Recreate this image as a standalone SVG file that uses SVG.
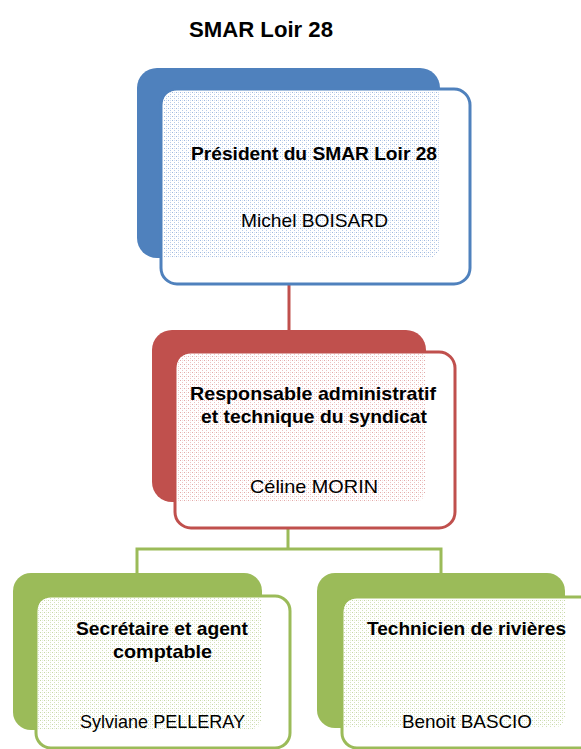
<svg xmlns="http://www.w3.org/2000/svg" width="581" height="749" viewBox="0 0 581 749">
<defs>
<pattern id="pb" width="4" height="4" patternUnits="userSpaceOnUse"><rect width="4" height="4" fill="#ffffff"/><rect x="0" y="0" width="1" height="1" fill="#9DB8E0"/><rect x="2" y="2" width="1" height="1" fill="#B9CCE8"/><rect x="2" y="0" width="1" height="1" fill="#D5E0F1"/></pattern>
<pattern id="pr" width="4" height="4" patternUnits="userSpaceOnUse"><rect width="4" height="4" fill="#ffffff"/><rect x="0" y="0" width="1" height="1" fill="#E3A9A8"/><rect x="2" y="2" width="1" height="1" fill="#EDC3C2"/><rect x="2" y="0" width="1" height="1" fill="#F4DCDB"/></pattern>
<pattern id="pg" width="4" height="4" patternUnits="userSpaceOnUse"><rect width="4" height="4" fill="#ffffff"/><rect x="0" y="0" width="1" height="1" fill="#C6D8A6"/><rect x="2" y="2" width="1" height="1" fill="#D5E2BD"/><rect x="2" y="0" width="1" height="1" fill="#E6EED8"/></pattern>
<style>
.t{font-family:"Liberation Sans",Arial,sans-serif;font-size:19px;fill:#000;text-anchor:middle}
.b{font-weight:bold}
.title{font-family:"Liberation Sans",Arial,sans-serif;font-size:22px;font-weight:bold;fill:#000;text-anchor:middle}
.front{fill:#fff;stroke-width:3}
.conn{fill:none;stroke-width:3}
</style>
</defs>
<rect width="581" height="749" fill="#fff"/>
<text class="title" x="261" y="37" textLength="144" lengthAdjust="spacingAndGlyphs">SMAR Loir 28</text>
<g id="connectors">
<path class="conn" stroke="#C0504D" d="M289,284 V331"/>
<path class="conn" stroke="#9BBB59" d="M288,528 V549 M137,574 V549 H441 V574"/>
</g>
<g id="node-president">
<rect x="137" y="68" width="303" height="190" rx="20" fill="#4F81BD"/>
<rect class="front" x="161" y="89" width="309" height="195" rx="16" stroke="#4F81BD"/>
<path d="M163,105 Q163,91 177,91 H440 V244 Q440,258 426,258 H163 Z" fill="url(#pb)"/>
<text class="t b" x="314" y="160" textLength="246" lengthAdjust="spacingAndGlyphs">Président du SMAR Loir 28</text>
<text class="t" x="314.5" y="227" textLength="147" lengthAdjust="spacingAndGlyphs">Michel BOISARD</text>
</g>
<g id="node-responsable">
<rect x="152" y="330" width="274" height="172" rx="20" fill="#C0504D"/>
<rect class="front" x="175" y="352" width="280" height="176" rx="16" stroke="#C0504D"/>
<path d="M177,368 Q177,354 191,354 H426 V488 Q426,502 412,502 H177 Z" fill="url(#pr)"/>
<text class="t b" x="313" y="400" textLength="246" lengthAdjust="spacingAndGlyphs">Responsable administratif</text>
<text class="t b" x="314" y="423" textLength="226" lengthAdjust="spacingAndGlyphs">et technique du syndicat</text>
<text class="t" x="314" y="493" textLength="128" lengthAdjust="spacingAndGlyphs">Céline MORIN</text>
</g>
<g id="node-secretaire">
<rect x="13" y="573" width="249" height="157" rx="18" fill="#9BBB59"/>
<rect class="front" x="36" y="596" width="254" height="152" rx="15" stroke="#9BBB59"/>
<path d="M38,611 Q38,598 51,598 H262 V716 Q262,730 248,730 H38 Z" fill="url(#pg)"/>
<text class="t b" x="162" y="635" textLength="172" lengthAdjust="spacingAndGlyphs">Secrétaire et agent</text>
<text class="t b" x="162.5" y="658" textLength="99" lengthAdjust="spacingAndGlyphs">comptable</text>
<text class="t" x="162.5" y="728" textLength="165" lengthAdjust="spacingAndGlyphs">Sylviane PELLERAY</text>
</g>
<g id="node-technicien">
<rect x="317" y="573" width="248" height="155" rx="18" fill="#9BBB59"/>
<rect class="front" x="342" y="597" width="260" height="151" rx="15" stroke="#9BBB59"/>
<path d="M344,612 Q344,599 357,599 H565 V714 Q565,728 551,728 H344 Z" fill="url(#pg)"/>
<text class="t b" x="466.5" y="635" textLength="199" lengthAdjust="spacingAndGlyphs">Technicien de rivières</text>
<text class="t" x="467" y="728" textLength="130" lengthAdjust="spacingAndGlyphs">Benoit BASCIO</text>
</g>
</svg>
